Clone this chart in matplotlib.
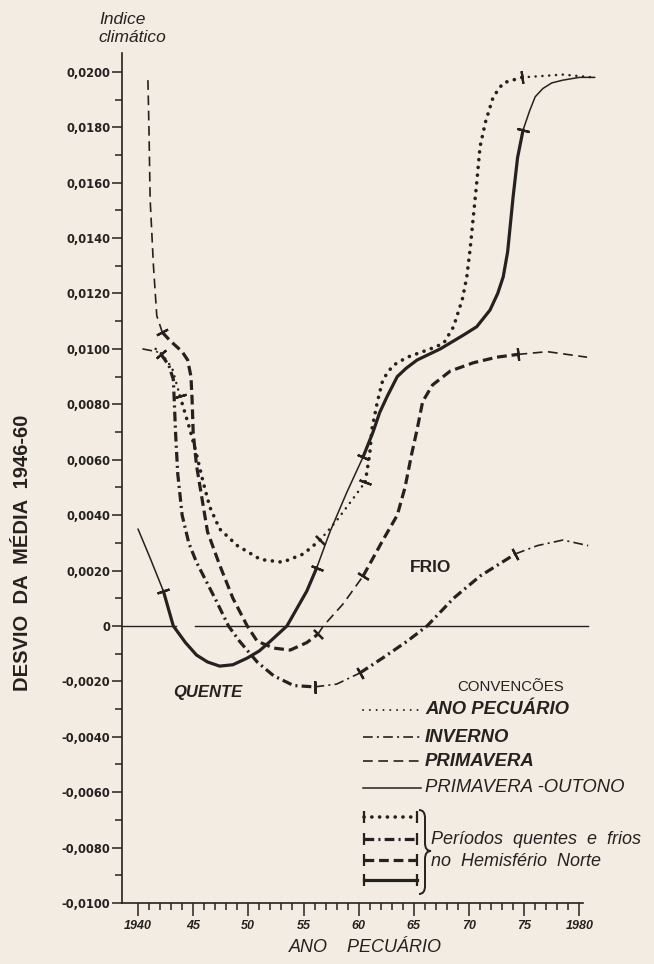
import numpy as np
import matplotlib
matplotlib.use("Agg")
import matplotlib.pyplot as plt
from matplotlib.lines import Line2D
from matplotlib.path import Path
from matplotlib.patches import PathPatch

# ---------------- data ----------------
solid_years = [1940.0, 1941.1, 1942.3, 1943.2, 1944.3, 1945.3, 1946.3, 1947.4, 1948.6, 1949.9,
               1951.0, 1952.0, 1953.5, 1955.3, 1956.2, 1957.4, 1958.9, 1960.4, 1961.3, 1961.9,
               1962.6, 1963.5, 1964.3, 1965.3, 1967.4, 1969.5, 1970.7, 1971.9, 1972.6, 1973.1,
               1973.5, 1973.7, 1974.0, 1974.4, 1974.9, 1975.5, 1976.0, 1976.7, 1977.5, 1978.5,
               1980.0, 1981.4]
solid_vals = [0.0035, 0.00245, 0.00126, 0.0000, -0.0006, -0.00105, -0.0013, -0.00145, -0.0014, -0.00116,
              -0.0009, -0.00055, 0.0000, 0.00126, 0.0021, 0.0034, 0.0048, 0.0061, 0.0070, 0.0077,
              0.0083, 0.0090, 0.0093, 0.0096, 0.0100, 0.0105, 0.0108, 0.0114, 0.0120, 0.0126,
              0.0135, 0.0143, 0.0155, 0.0169, 0.0179, 0.0186, 0.0191, 0.0194, 0.0196, 0.0197,
              0.0198, 0.0198]
solid_periods = [1942.3, 1956.2, 1960.4, 1974.9]

dotted_years = [1941.6, 1942.2, 1943.1, 1943.8, 1944.7, 1945.3, 1945.9, 1946.5, 1947.4, 1949.0,
                1951.1, 1953.1, 1955.0, 1956.5, 1958.0, 1959.5, 1960.6, 1961.0, 1961.2, 1961.7,
                1962.2, 1963.1, 1964.4, 1966.5, 1967.7, 1968.6, 1969.4, 1969.8, 1970.1, 1970.4,
                1970.7, 1971.0, 1971.5, 1972.2, 1973.1, 1974.8, 1978.5, 1981.3]
dotted_vals = [0.0100, 0.0098, 0.0093, 0.0083, 0.0071, 0.0062, 0.0052, 0.0043, 0.0035, 0.0029,
               0.0024, 0.0023, 0.0026, 0.0031, 0.0038, 0.0046, 0.0052, 0.0062, 0.0071, 0.0081,
               0.0089, 0.0094, 0.0097, 0.0100, 0.0102, 0.0108, 0.0118, 0.0126, 0.0136, 0.0148,
               0.0160, 0.0173, 0.0182, 0.0191, 0.0196, 0.0198, 0.0199, 0.0198]
dotted_periods = [1943.8, 1956.5, 1960.6, 1974.8]

dashed_years = [1940.9, 1941.0, 1941.1, 1941.4, 1941.7, 1942.2, 1942.9, 1944.0, 1944.5, 1944.8,
                1944.9, 1945.0, 1945.3, 1945.8, 1946.3, 1947.4, 1948.6, 1949.9, 1950.8, 1952.3,
                1953.8, 1955.3, 1956.3, 1956.8, 1957.7, 1958.6, 1960.4, 1962.2, 1963.5, 1964.2,
                1964.8, 1965.3, 1965.8, 1966.7, 1968.3, 1970.4, 1972.5, 1974.4, 1977.1, 1980.7]
dashed_vals = [0.0197, 0.0178, 0.0154, 0.0130, 0.0112, 0.0106, 0.0103, 0.0099, 0.0096, 0.0090,
               0.0082, 0.0070, 0.0058, 0.0046, 0.0034, 0.0022, 0.0010, 0.0000, -0.00055, -0.0008,
               -0.00087, -0.0006, -0.0003, 0.0000, 0.0004, 0.0008, 0.0018, 0.0031, 0.0040, 0.0050,
               0.0062, 0.0071, 0.0081, 0.0087, 0.0092, 0.0095, 0.0097, 0.0098, 0.0099, 0.0097]
dashed_periods = [1942.2, 1956.3, 1960.4, 1974.4]

dashdot_years = [1940.4, 1941.7, 1942.1, 1942.8, 1943.2, 1943.3, 1943.4, 1943.6, 1944.0, 1944.6,
                 1945.3, 1946.2, 1947.1, 1948.2, 1949.2, 1950.8, 1952.3, 1954.1, 1956.0, 1958.0,
                 1960.1, 1962.2, 1964.4, 1966.2, 1968.6, 1971.0, 1974.2, 1976.2, 1978.5, 1980.8]
dashdot_vals = [0.0100, 0.0099, 0.0098, 0.0094, 0.0089, 0.0080, 0.0070, 0.0055, 0.0040, 0.0030,
                0.0023, 0.0016, 0.0009, 0.0000, -0.00055, -0.0013, -0.0018, -0.00215, -0.0022, -0.0021,
                -0.0017, -0.00115, -0.00055, 0.0000, 0.0010, 0.0018, 0.0026, 0.0029, 0.0031, 0.0029]
dashdot_periods = [1942.1, 1956.0, 1960.1, 1974.2]

x_ticks = [1940, 1945, 1950, 1955, 1960, 1965, 1970, 1975, 1980]
x_labels = ["1940", "45", "50", "55", "60", "65", "70", "75", "1980"]
y_ticks = [-0.0100, -0.0080, -0.0060, -0.0040, -0.0020, 0.0, 0.0020, 0.0040, 0.0060, 0.0080,
           0.0100, 0.0120, 0.0140, 0.0160, 0.0180, 0.0200]
y_labels = ["-0,0100", "-0,0080", "-0,0060", "-0,0040", "-0,0020", "0", "0,0020", "0,0040",
            "0,0060", "0,0080", "0,0100", "0,0120", "0,0140", "0,0160", "0,0180", "0,0200"]

legend_labels = ["ANO PECUÁRIO", "INVERNO", "PRIMAVERA", "PRIMAVERA -OUTONO"]

# ---------------- style ----------------
plt.rcParams['lines.scale_dashes'] = False
plt.rcParams['font.family'] = ['Liberation Sans', 'DejaVu Sans']
INK = '#24211e'
BG = '#f2ece2'
W, H = 654, 964

def fx(x):
    return x / W

def fy(y):
    return 1 - y / H

fig = plt.figure(figsize=(W / 100, H / 100), dpi=100, facecolor=BG)
ax = fig.add_axes([fx(122), fy(903), (597 - 122) / W, (903 - 53) / H])
ax.set_facecolor(BG)
XMIN, XMAX = 1938.55, 1981.6
ax.set_xlim(XMIN, XMAX)
ax.set_ylim(-0.0100, 0.02068)

for s in ['top', 'right']:
    ax.spines[s].set_visible(False)
for s in ['left', 'bottom']:
    ax.spines[s].set_color(INK)
    ax.spines[s].set_linewidth(1.2)
ax.spines['bottom'].set_bounds(XMIN, 1980.3)

ax.set_xticks(x_ticks)
ax.set_xticklabels(x_labels, fontsize=9, fontweight='bold', style='italic', color=INK)
ax.set_xticks(np.arange(1940, 1981, 1), minor=True)
ax.set_yticks(y_ticks)
ax.set_yticklabels(y_labels, fontsize=8.3, fontweight='bold', color=INK, family='DejaVu Sans')
ax.set_yticks(np.arange(-0.010, 0.0201, 0.001), minor=True)
ax.tick_params(axis='both', which='both', direction='out', color=INK, width=1.1)
ax.tick_params(axis='x', which='major', length=9, pad=3)
ax.tick_params(axis='x', which='minor', length=5)
ax.tick_params(axis='y', which='major', length=7, pad=1.5)
ax.tick_params(axis='y', which='minor', length=5)

# zero line (with the small gap seen in the original)
ax.plot([XMIN, 1943.4], [0, 0], color=INK, lw=1.0, zorder=1)
ax.plot([1945.2, 1980.8], [0, 0], color=INK, lw=1.0, zorder=1)

STYLES = {
    'solid':   (dict(ls='-', lw=1.1), dict(ls='-', lw=2.3)),
    'dashed':  (dict(ls=(0, (7, 4)), lw=1.2), dict(ls=(0, (7, 3.5)), lw=2.3)),
    'dashdot': (dict(ls=(0, (7, 3, 1.5, 3)), lw=1.2), dict(ls=(0, (7, 3, 1.5, 3)), lw=2.3)),
    'dotted':  (dict(ls=(0, (0.1, 4.8)), lw=1.8, dash_capstyle='round'),
                dict(ls=(0, (0.1, 5.5)), lw=2.6, dash_capstyle='round')),
}

def draw_curve(years, vals, periods, kind):
    yrs = np.asarray(years)
    vs = np.asarray(vals)
    idx = [int(np.argmin(np.abs(yrs - p))) for p in periods]
    bounds = [0] + idx + [len(yrs) - 1]
    thin, thick = STYLES[kind]
    for k in range(len(bounds) - 1):
        a, b = bounds[k], bounds[k + 1]
        st = thick if k in (1, 3) else thin
        ax.plot(yrs[a:b + 1], vs[a:b + 1], color=INK, solid_capstyle='round', **st)
    # period markers: short strokes perpendicular to the curve
    fig.canvas.draw()
    for i in idx:
        p0 = ax.transData.transform((yrs[max(i - 1, 0)], vs[max(i - 1, 0)]))
        p1 = ax.transData.transform((yrs[min(i + 1, len(yrs) - 1)], vs[min(i + 1, len(yrs) - 1)]))
        ang = np.degrees(np.arctan2(p1[1] - p0[1], p1[0] - p0[0]))
        ax.plot([yrs[i]], [vs[i]], marker=(2, 2, ang), ms=9, mew=1.6, color=INK, ls='none')

draw_curve(solid_years, solid_vals, solid_periods, 'solid')
draw_curve(dotted_years, dotted_vals, dotted_periods, 'dotted')
draw_curve(dashed_years, dashed_vals, dashed_periods, 'dashed')
draw_curve(dashdot_years, dashdot_vals, dashdot_periods, 'dashdot')

# ---------------- texts ----------------
fig.text(fx(99), fy(20), "Indice", ha='left', va='center', fontsize=12.5,
         style='italic', color=INK)
fig.text(fx(98), fy(37), "climático", ha='left', va='center', fontsize=12.5,
         style='italic', color=INK)
fig.text(fx(23), fy(553), "DESVIO  DA  MÉDIA  1946-60", rotation=90, ha='center', va='center',
         fontsize=14.5, fontweight='bold', color=INK)
fig.text(fx(365), fy(948), "ANO    PECUÁRIO", ha='center', va='center', fontsize=13,
         style='italic', color=INK)
fig.text(fx(173), fy(693), "QUENTE", ha='left', va='center', fontsize=12, fontweight='bold',
         style='italic', color=INK)
fig.text(fx(410), fy(567), "FRIO", ha='left', va='center', fontsize=12.5, fontweight='bold',
         color=INK)

# ---------------- legend (CONVENÇÕES) ----------------
fig.text(fx(457), fy(687), "CONVENCÕES", ha='left', va='center', fontsize=10.8,
         color=INK)
rows_y = [710, 737, 761, 788]
kinds = ['dotted', 'dashdot', 'dashed', 'solid']
weights = ['bold', 'bold', 'bold', 'normal']
for yy, kind, lab, wt in zip(rows_y, kinds, legend_labels, weights):
    st = dict(STYLES[kind][0])
    if kind == 'dotted':
        st['lw'] = 1.4
    fig.add_artist(Line2D([fx(363), fx(421)], [fy(yy), fy(yy)], color=INK, **st))
    fig.text(fx(425), fy(yy), lab, ha='left', va='center', fontsize=13.3, style='italic',
             fontweight=wt, color=INK)

per_y = [817, 839, 860, 880]
for yy, kind in zip(per_y, kinds):
    st = dict(STYLES[kind][1])
    fig.add_artist(Line2D([fx(364), fx(417)], [fy(yy), fy(yy)], color=INK, **st))
    fig.add_artist(Line2D([fx(364), fx(417)], [fy(yy), fy(yy)], color=INK, ls='none',
                          marker='|', ms=8, mew=1.6))

# brace
bx0, bx1, bx2 = fx(419), fx(425), fx(431)
yt, ym, yb = fy(810), fy(851), fy(894)
verts = [(bx0, yt), (bx1, yt), (bx1, fy(818)),
         (bx1, fy(843)),
         (bx1, ym), (bx2, ym),
         (bx1, ym), (bx1, fy(859)),
         (bx1, fy(886)),
         (bx1, yb), (bx0, yb)]
codes = [Path.MOVETO, Path.CURVE3, Path.CURVE3,
         Path.LINETO,
         Path.CURVE3, Path.CURVE3,
         Path.CURVE3, Path.CURVE3,
         Path.LINETO,
         Path.CURVE3, Path.CURVE3]
fig.add_artist(PathPatch(Path(verts, codes), transform=fig.transFigure, fill=False,
                         ec=INK, lw=1.4))
fig.text(fx(431), fy(840), "Períodos  quentes  e  frios", ha='left', va='center', fontsize=13,
         style='italic', color=INK)
fig.text(fx(431), fy(861), "no  Hemisfério  Norte", ha='left', va='center', fontsize=13,
         style='italic', color=INK)

fig.savefig("out.png", dpi=100, facecolor=BG)
